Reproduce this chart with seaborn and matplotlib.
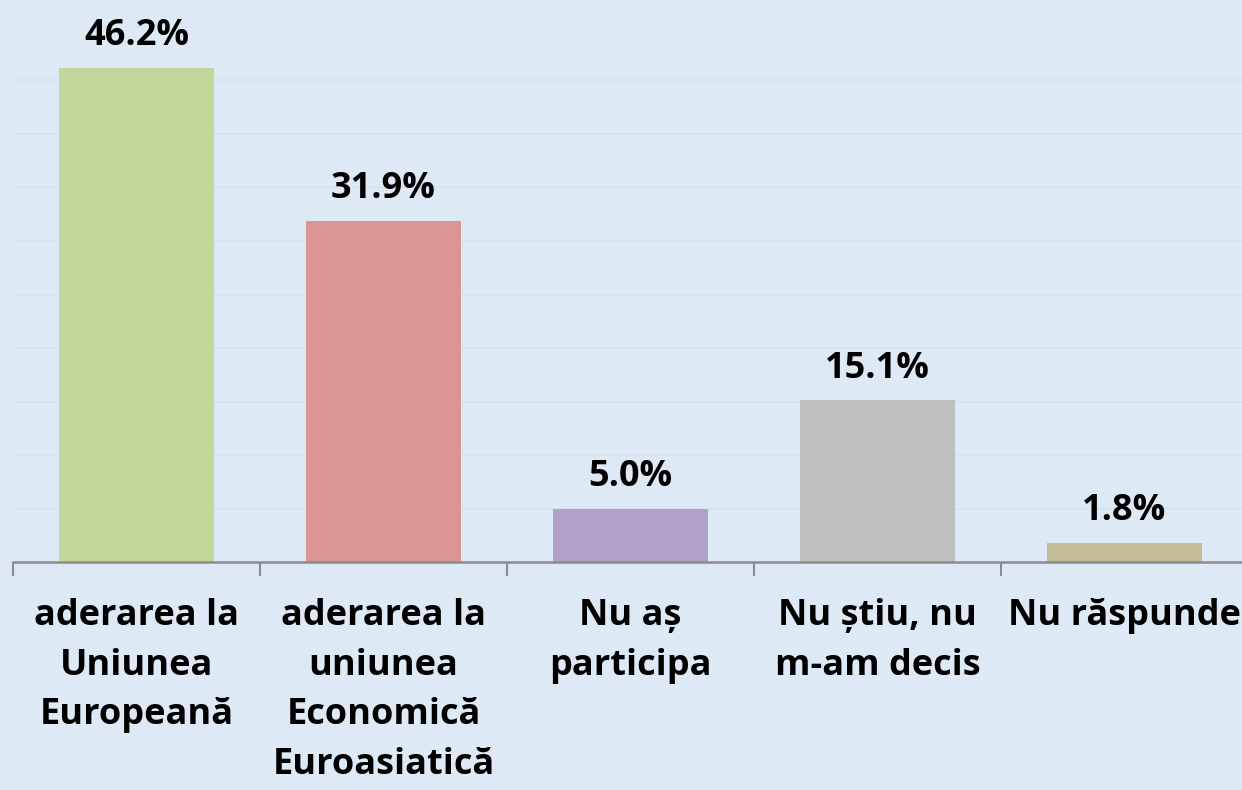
import matplotlib.pyplot as plt
import seaborn as sns
import pandas as pd

categories = [
    "aderarea la\nUniunea\nEuropeană",
    "aderarea la\nuniunea\nEconomică\nEuroasiatică",
    "Nu aș\nparticipa",
    "Nu știu, nu\nm-am decis",
    "Nu răspunde",
]
values = [46.2, 31.9, 5.0, 15.1, 1.8]
colors = ["#C4D79B", "#DA9694", "#B1A0C7", "#BFBFBF", "#C4BD97"]

BG = "#DDEAF6"


def plot_chart(df):
    sns.set_style("white")
    plt.rcParams["font.family"] = ["Open Sans", "DejaVu Sans"]

    fig = plt.figure(figsize=(12.42, 7.9), dpi=100, facecolor=BG)
    ax = fig.add_axes([13 / 1242, 228 / 790, 1235 / 1242, 535 / 790])
    ax.set_facecolor(BG)

    sns.barplot(
        data=df,
        x="category",
        y="value",
        hue="category",
        palette=colors,
        width=0.63,
        legend=False,
        saturation=1,
        linewidth=0,
        ax=ax,
    )

    ax.set_xlim(-0.5, 4.5)
    ax.set_ylim(0, 50)
    ax.set_yticks(range(5, 51, 5))
    ax.yaxis.grid(True, color="#D6E3EF", linewidth=1.2)
    ax.set_axisbelow(True)
    ax.tick_params(axis="y", left=False, labelleft=False)

    for side in ["top", "right", "left"]:
        ax.spines[side].set_visible(False)
    ax.spines["bottom"].set_color("#8C8C8C")
    ax.spines["bottom"].set_linewidth(1.8)

    ax.set_xticks([i - 0.5 for i in range(5)], minor=False)
    ax.set_xticklabels([])
    ax.tick_params(axis="x", which="major", bottom=True, length=10,
                   width=1.5, color="#8C8C8C", direction="out")
    ax.set_xticks(range(5), minor=True)
    ax.set_xticklabels(df["category"], minor=True, fontsize=26,
                       fontweight="bold", linespacing=1.5, color="black")
    ax.tick_params(axis="x", which="minor", bottom=False, length=0, pad=26)
    ax.set_xlabel("")
    ax.set_ylabel("")

    for container in ax.containers:
        ax.bar_label(container, fmt="%.1f%%", padding=10, fontsize=26,
                     fontweight="bold", color="black", clip_on=False)

    fig.savefig("out.png", dpi=100, facecolor=BG)


if __name__ == "__main__":
    df = pd.DataFrame({"category": categories, "value": values})
    plot_chart(df)
